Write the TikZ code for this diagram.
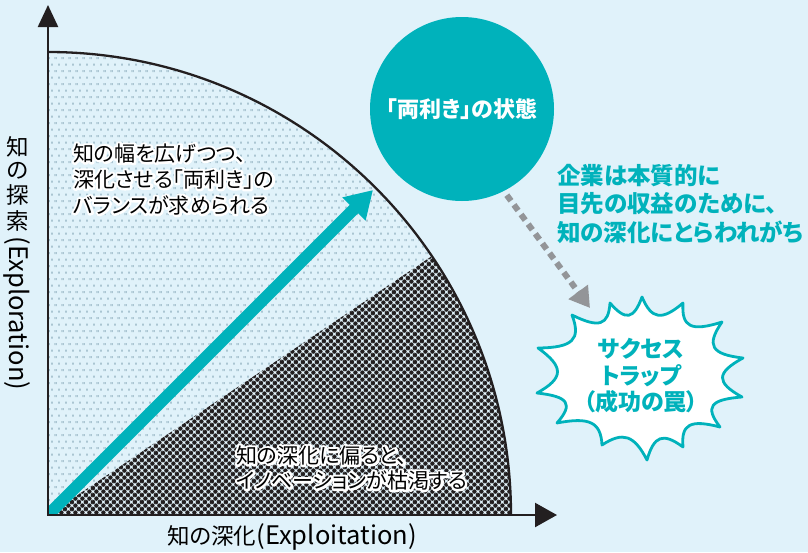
\documentclass[tikz,border=0pt]{standalone}
\usepackage{fontspec}
\setmainfont{Noto Sans CJK JP}[RawFeature=+palt]
\usetikzlibrary{arrows.meta,patterns.meta,calc}
\definecolor{bg}{RGB}{224,242,250}
\definecolor{tealc}{RGB}{0,178,187}
\definecolor{ink}{RGB}{35,31,32}
\definecolor{lightdot}{RGB}{170,197,210}
\definecolor{arrgray}{RGB}{147,149,152}
\tikzdeclarepattern{
  name=darkdots, type=colored,
  bottom left={(0pt,0pt)}, top right={(7.4pt,7.4pt)},
  tile size={(7.4pt,7.4pt)},
  code={
    \fill[ink] (0pt,0pt) circle (2.4pt);
    \fill[ink] (7.4pt,0pt) circle (2.4pt);
    \fill[ink] (0pt,7.4pt) circle (2.4pt);
    \fill[ink] (7.4pt,7.4pt) circle (2.4pt);
    \fill[ink] (3.7pt,3.7pt) circle (2.4pt);
  }
}
\tikzdeclarepattern{
  name=lightdots, type=colored,
  bottom left={(0pt,0pt)}, top right={(7pt,13.4pt)},
  tile size={(7pt,13.4pt)},
  code={
    \fill[lightdot] (-1pt,-1pt) rectangle (1pt,1pt);
    \fill[lightdot] (6pt,-1pt) rectangle (8pt,1pt);
    \fill[lightdot] (-1pt,12.4pt) rectangle (1pt,14.4pt);
    \fill[lightdot] (6pt,12.4pt) rectangle (8pt,14.4pt);
    \fill[lightdot] (2.5pt,5.7pt) rectangle (4.5pt,7.7pt);
  }
}
\newcommand\halo[1]{\leavevmode\setbox0\hbox{#1}\rlap{\color{white}\special{pdf:literal direct 1 1 1 RG 1 Tr 4.5 w 1 j 1 J}\copy0\special{pdf:literal direct 0 Tr}}\box0}
\newcommand\lat[1]{{\fontsize{25.5}{25.5}\selectfont #1}}
\begin{document}
\begin{tikzpicture}[x=1pt,y=-1pt,
  axisline/.style={ink, line width=2.3pt},
  arcline/.style={ink, line width=2.3pt},
  burstline/.style={draw=tealc, fill=white, line width=2.8pt, line join=round},
  grayarrow/.style={arrgray, line width=6pt, dash pattern=on 7pt off 5pt, -{Triangle[length=20pt,width=23pt]}, shorten <=5pt},
  bodytext/.style={inner sep=0pt, font={\fontsize{21}{26}\selectfont}},
  axistext/.style={inner sep=0pt, font={\fontsize{22.5}{23}\selectfont}},
  tealtext/.style={inner sep=0pt, text=tealc, font={\bfseries\fontsize{23.5}{27}\selectfont}},
]
\fill[bg] (0,0) rectangle (808,552);
\useasboundingbox (0,0) rectangle (808,552);

\coordinate (O) at (48,515);
\coordinate (ytip) at (48,5);
\coordinate (xtip) at (557,515);

% sectors
\path[pattern=lightdots] (O) -- ++(-34:463) arc[start angle=-34,end angle=-90,radius=463] -- cycle;
\path[pattern=darkdots] (O) -- ++(0:463) arc[start angle=0,end angle=-34,radius=463] -- cycle;
\draw[arcline] (O) ++(0:463) arc[start angle=0,end angle=-90,radius=463];

% teal arrow
\coordinate (ttail) at (38,525);
\coordinate (ttip) at (373,190);
\begin{scope}
  \clip (O) rectangle (808,0);
  \draw[tealc, line width=12pt, -{Triangle[length=27pt,width=31pt]}] (ttail) -- (ttip);
\end{scope}

% axes
\draw[axisline, {Triangle[length=22pt,width=20pt]}-{Triangle[length=22pt,width=24pt]}] (ytip) -- (O) -- (xtip);

% circle
\node[circle, fill=tealc, minimum size=184pt, inner sep=0pt, text=white,
      font={\bfseries\fontsize{22}{26}\selectfont}] (state) at (462,109) {「両利き」の状態};

% burst
\coordinate (bc) at (640,378);
\coordinate (s1) at (642,297);
\coordinate (s2) at (683,303);
\coordinate (s3) at (722,322);
\coordinate (s4) at (743,358);
\coordinate (s5) at (742,397);
\coordinate (s6) at (720,427);
\coordinate (s7) at (683,447);
\coordinate (s8) at (647,460);
\coordinate (s9) at (602,445);
\coordinate (s10) at (557,423);
\coordinate (s11) at (537,393);
\coordinate (s12) at (538,348);
\coordinate (s13) at (572,315);
\coordinate (s14) at (610,303);
\foreach \k [evaluate=\k as \n using {int(mod(\k,14)+1)}] in {1,...,14}{
  \coordinate (m1-\k) at ($(s\k)!0.333!(s\n)$);
  \coordinate (m2-\k) at ($(s\k)!0.667!(s\n)$);
  \coordinate (c1-\k) at ($(bc)!0.74!(m1-\k)$);
  \coordinate (c2-\k) at ($(bc)!0.74!(m2-\k)$);
}
\draw[burstline] (s1) \foreach \k [evaluate=\k as \n using {int(mod(\k,14)+1)}] in {1,...,14} { .. controls (c1-\k) and (c2-\k) .. (s\n) } -- cycle;
\node[tealtext, align=center, font={\bfseries\fontsize{23}{26.5}\selectfont}] (trap) at (641,376) {サクセス\\トラップ\\（成功の罠）};

% gray dashed arrow
\coordinate (traptip) at (590,308);
\draw[grayarrow] (state.-63) -- (traptip);

% teal paragraph
\node[tealtext, anchor=north west] (tealpara) at (557,164)
  {\begin{tabular}{@{}l@{}}企業は本質的に\\目先の収益のために、\\知の深化にとらわれがち\end{tabular}};

% haloed texts
\node[bodytext, anchor=north west] (explore) at (73,143)
  {\halo{\begin{tabular}{@{}l@{}}知の幅を広げつつ、\\深化させる「両利き」の\\バランスが求められる\end{tabular}}};
\node[bodytext, anchor=north west] (exploit) at (236,445)
  {\halo{\begin{tabular}{@{}l@{}}知の深化に偏ると、\\[-1pt]イノベーションが枯渇する\end{tabular}}};

% axis labels
\node[axistext] (xlab) at (292,537) {知の深化\lat{(Exploitation)}};
\node[axistext, anchor=north] (ylab) at (17.5,136)
  {\begin{tabular}{@{}c@{}}知\\の\\探\\索\\[-16pt]\rotatebox{-90}{\lat{(Exploration)}}\end{tabular}};
\end{tikzpicture}
\end{document}
